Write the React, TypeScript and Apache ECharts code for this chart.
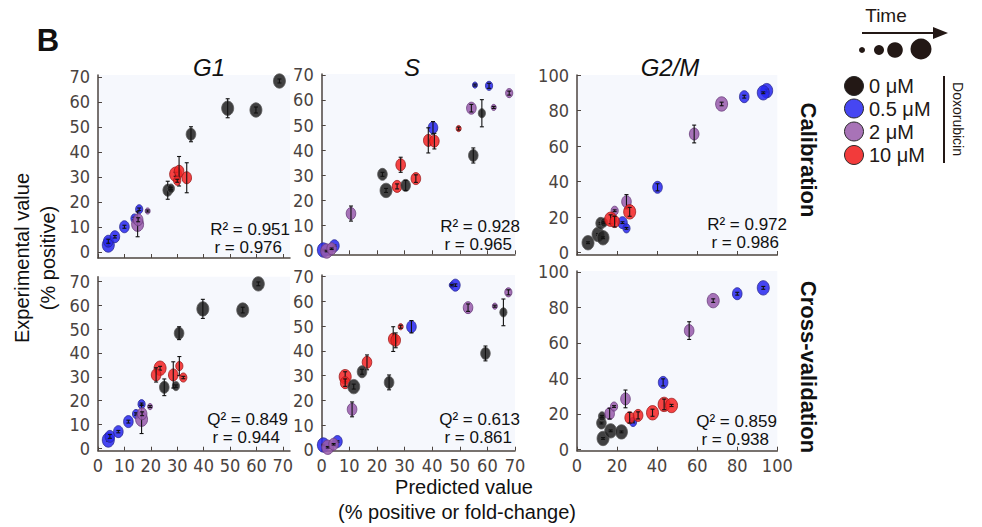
import React, { useEffect, useRef } from 'react';
import * as echarts from 'echarts';

// each point: [predicted, experimental, error, timeSize (1-4), dose index (0-3)]
const g1Calibration = [
  [68.7, 68.3, 0.8, 4, 0], [49.1, 57.4, 3.8, 4, 0], [59.8, 56.7, 1.2, 4, 0], [35.2, 47.0, 3.0, 3, 0],
  [26.4, 24.6, 3.6, 3, 0], [27.6, 25.3, 0.5, 2, 0],
  [29.4, 31.0, 0.8, 4, 3], [30.7, 32.2, 5.9, 3, 3], [33.6, 29.6, 6.0, 3, 3], [30.0, 28.4, 0.6, 2, 3],
  [3.9, 2.7, 0.5, 4, 1], [3.9, 4.2, 0.8, 3, 1], [6.4, 6.0, 0.5, 3, 1], [10.0, 10.0, 0.6, 3, 1],
  [13.8, 13.3, 0.5, 2, 1], [15.6, 17.0, 0.5, 2, 1],
  [15.0, 11.0, 5.0, 4, 2], [15.2, 12.8, 0.8, 3, 2], [18.8, 16.3, 0.4, 1, 2],
];
const sCalibration = [
  [55.5, 65.9, 0.4, 1, 1], [60.6, 65.6, 1.0, 2, 1], [67.9, 62.7, 0.8, 2, 2], [54.2, 56.7, 1.5, 3, 2],
  [62.3, 57.0, 0.4, 1, 2], [58.0, 54.7, 5.4, 2, 0], [40.3, 48.9, 2.5, 3, 1], [49.6, 48.6, 0.6, 1, 3],
  [38.6, 43.9, 5.0, 3, 3], [40.8, 43.6, 3.1, 3, 3], [54.9, 37.9, 3.0, 3, 0], [28.6, 34.2, 3.0, 3, 3],
  [22.0, 30.4, 0.8, 3, 0], [23.3, 24.0, 0.8, 4, 0], [27.3, 25.6, 1.0, 3, 3], [30.4, 26.0, 2.0, 3, 0],
  [34.1, 28.7, 1.5, 3, 3], [10.6, 14.8, 3.0, 3, 2],
  [0.6, 0.3, 0.3, 4, 1], [4.6, 2.0, 0.3, 3, 1], [1.8, -0.1, 0.3, 4, 2], [3.6, 0.8, 0.3, 3, 2],
];
const g2mCalibration = [
  [94.7, 91.2, 0.8, 4, 1], [93.0, 90.0, 0.5, 4, 1], [83.5, 87.8, 0.8, 3, 1], [72.2, 83.7, 1.0, 4, 2],
  [58.5, 66.8, 5.0, 3, 2], [40.2, 36.8, 2.0, 3, 1],
  [5.5, 5.6, 0.5, 4, 0], [10.5, 10.3, 0.5, 4, 0], [13.0, 8.4, 0.5, 4, 0], [11.8, 16.5, 0.5, 3, 0],
  [13.5, 17.0, 0.5, 2, 0],
  [24.7, 28.7, 4.0, 3, 2], [18.8, 23.6, 0.5, 2, 2],
  [22.7, 16.9, 0.5, 3, 1], [24.7, 13.7, 0.5, 2, 1],
  [16.8, 18.8, 2.5, 4, 3], [18.8, 17.5, 3.0, 3, 3], [26.3, 23.0, 2.5, 4, 3],
];
const g1Validation = [
  [60.7, 69.0, 0.8, 4, 0], [39.7, 58.5, 4.0, 4, 0], [54.8, 58.0, 1.2, 4, 0], [30.7, 48.3, 2.7, 3, 0],
  [25.1, 25.6, 3.5, 3, 0], [29.5, 26.1, 0.5, 2, 0],
  [23.5, 33.6, 0.8, 4, 3], [22.0, 30.8, 3.0, 3, 3], [28.5, 30.8, 5.5, 3, 3], [30.8, 34.5, 4.0, 2, 3],
  [32.3, 29.7, 0.5, 2, 3],
  [3.9, 3.5, 0.5, 4, 1], [4.5, 5.0, 0.8, 3, 1], [7.7, 7.0, 0.5, 3, 1], [11.5, 11.2, 0.6, 3, 1],
  [14.4, 14.4, 0.5, 2, 1], [16.5, 18.5, 0.5, 2, 1],
  [16.5, 12.2, 6.0, 4, 2], [16.7, 14.5, 0.8, 3, 2], [19.7, 17.5, 0.4, 1, 2],
];
const sValidation = [
  [48.4, 66.6, 0.5, 3, 1], [47.1, 66.6, 0.3, 1, 1], [53.0, 57.5, 1.5, 3, 2], [62.7, 58.1, 0.4, 1, 2],
  [67.6, 63.7, 1.0, 2, 2], [65.8, 55.6, 5.4, 2, 0], [59.3, 39.0, 3.0, 3, 0], [32.5, 49.8, 2.5, 3, 1],
  [28.6, 49.8, 0.6, 1, 3], [25.9, 44.8, 5.0, 3, 3], [26.8, 44.3, 3.0, 3, 3], [16.4, 35.4, 3.0, 3, 3],
  [14.6, 31.6, 1.0, 3, 0], [8.5, 29.6, 2.0, 4, 3], [8.5, 27.2, 1.5, 3, 3], [11.6, 25.6, 1.0, 4, 0],
  [24.4, 27.3, 3.0, 3, 0], [11.0, 16.4, 3.0, 3, 2],
  [0.6, 2.0, 0.3, 4, 1], [5.7, 3.4, 0.3, 3, 1], [2.2, 1.1, 0.3, 4, 2], [4.3, 2.3, 0.3, 3, 2],
];
const g2mValidation = [
  [93.0, 91.0, 0.8, 4, 1], [80.0, 87.7, 0.8, 3, 1], [68.0, 83.8, 1.0, 4, 2], [56.0, 66.9, 5.0, 3, 2],
  [43.0, 37.7, 2.0, 3, 1],
  [13.0, 6.1, 0.5, 4, 0], [16.8, 10.4, 0.5, 4, 0], [22.2, 9.8, 0.5, 4, 0], [12.2, 14.8, 0.5, 3, 0],
  [12.5, 18.6, 0.5, 2, 0],
  [16.3, 20.1, 3.0, 3, 2], [18.5, 24.1, 0.5, 2, 2], [24.2, 28.4, 5.0, 3, 2],
  [28.0, 15.4, 0.5, 2, 1],
  [26.3, 17.8, 3.0, 3, 3], [30.5, 19.1, 2.0, 3, 3], [37.7, 20.6, 2.0, 4, 3], [43.5, 25.3, 3.0, 4, 3],
  [47.2, 24.7, 0.6, 4, 3],
];

const ticks70 = [0, 10, 20, 30, 40, 50, 60, 70];
const ticks100 = [0, 20, 40, 60, 80, 100];
const columnTitles = ['G1', 'S', 'G2/M'];
const rowTitles = ['Calibration', 'Cross-validation'];
const fitStats = [
  ['R\u00b2 = 0.951', 'r = 0.976'], ['R\u00b2 = 0.928', 'r = 0.965'], ['R\u00b2 = 0.972', 'r = 0.986'],
  ['Q\u00b2 = 0.849', 'r = 0.944'], ['Q\u00b2 = 0.613', 'r = 0.861'], ['Q\u00b2 = 0.859', 'r = 0.938'],
];
const doseLabels = ['0 \u03bcM', '0.5 \u03bcM', '2 \u03bcM', '10 \u03bcM'];

const legendColors = ['#231815', '#4646f2', '#a873b7', '#f23b3b'];
const fillColors = ['rgba(34,34,34,0.86)', 'rgba(40,40,240,0.86)', 'rgba(152,92,172,0.86)', 'rgba(245,36,36,0.86)'];
const strokeColors = ['#5a5a5a', '#2a2a90', '#6a3d7c', '#9a1a1a'];
const RX = [2.5, 3.6, 4.8, 6.0];
const RY = [3.1, 4.6, 6.0, 7.2];

const AXIS = '#4d4540';
const LABEL = '#4a4340';
const NARROW = "'Liberation Sans Narrow', 'Arial Narrow', 'DejaVu Sans Condensed', sans-serif";
const SANS = "'Liberation Sans', Arial, sans-serif";

const layouts = [
  { data: g1Calibration, left: 98, top: 75, width: 192, height: 183, xMax: 72.7, yMin: -2.5, yMax: 70.7, ticks: ticks70, showX: false, sx: 290, sy: 229 },
  { data: sCalibration, left: 321.7, top: 74, width: 193.3, height: 180.3, xMax: 70, yMin: -1.4, yMax: 70.3, ticks: ticks70, showX: false, sx: 520, sy: 226 },
  { data: g2mCalibration, left: 577, top: 75, width: 200.3, height: 180, xMax: 100, yMin: -1.3, yMax: 100, ticks: ticks100, showX: false, sx: 787, sy: 224 },
  { data: g1Validation, left: 98, top: 276.7, width: 192, height: 174, xMax: 72.7, yMin: -1, yMax: 72, ticks: ticks70, showX: true, sx: 288, sy: 419 },
  { data: sValidation, left: 321.7, top: 275, width: 193.3, height: 175.7, xMax: 70, yMin: -0.3, yMax: 70.7, ticks: ticks70, showX: true, sx: 520, sy: 419 },
  { data: g2mValidation, left: 577, top: 271, width: 200.3, height: 179.7, xMax: 100, yMin: -0.8, yMax: 100.5, ticks: ticks100, showX: true, sx: 777, sy: 421 },
];

function renderPoint(params: any, api: any) {
  const x = api.value(0);
  const y = api.value(1);
  const e = api.value(2);
  const s = api.value(3);
  const d = api.value(4);
  const c = api.coord([x, y]);
  const t = api.coord([x, y + e]);
  const b = api.coord([x, y - e]);
  const cap = 2;
  const bar = { stroke: '#111', lineWidth: 1.1 };
  return {
    type: 'group',
    children: [
      {
        type: 'ellipse',
        shape: { cx: c[0], cy: c[1], rx: RX[s - 1], ry: RY[s - 1] },
        style: { fill: fillColors[d], stroke: strokeColors[d], lineWidth: 0.8 },
      },
      { type: 'line', shape: { x1: c[0], y1: t[1], x2: c[0], y2: b[1] }, style: bar },
      { type: 'line', shape: { x1: c[0] - cap, y1: t[1], x2: c[0] + cap, y2: t[1] }, style: bar },
      { type: 'line', shape: { x1: c[0] - cap, y1: b[1], x2: c[0] + cap, y2: b[1] }, style: bar },
    ],
  };
}

function buildOption() {
  const grid: any[] = [];
  const xAxis: any[] = [];
  const yAxis: any[] = [];
  const series: any[] = [];
  layouts.forEach((p, i) => {
    grid.push({ left: p.left, top: p.top, width: p.width, height: p.height, show: true, backgroundColor: '#f6f8fd', borderWidth: 0 });
    xAxis.push({
      type: 'value', gridIndex: i, min: 0, max: p.xMax,
      axisLine: { show: true, onZero: false, lineStyle: { color: AXIS, width: 1.5 } },
      axisTick: { show: true, inside: true, length: 4, customValues: p.ticks, lineStyle: { color: AXIS } },
      axisLabel: { show: p.showX, customValues: p.ticks, color: LABEL, fontSize: 18, fontFamily: NARROW, margin: 6 },
      splitLine: { show: false },
    });
    yAxis.push({
      type: 'value', gridIndex: i, min: p.yMin, max: p.yMax,
      axisLine: { show: true, onZero: false, lineStyle: { color: AXIS, width: 1.5 } },
      axisTick: { show: true, inside: true, length: 4, customValues: p.ticks, lineStyle: { color: AXIS } },
      axisLabel: { show: true, customValues: p.ticks, color: LABEL, fontSize: 18, fontFamily: NARROW, margin: 8 },
      splitLine: { show: false },
    });
    series.push({
      type: 'custom', xAxisIndex: i, yAxisIndex: i, renderItem: renderPoint,
      encode: { x: 0, y: 1 }, data: p.data, clip: false,
    });
  });

  const graphic: any[] = [];
  const txt = (text: string, x: number, y: number, font: string, align = 'center', fill = '#111', rotation = 0) => ({
    type: 'text', x, y, rotation,
    style: { text, x: 0, y: 0, font, fill, textAlign: align, textVerticalAlign: 'middle' },
  });
  graphic.push(txt('B', 48, 40, `bold 31px ${SANS}`));
  const titleX = [209, 412, 670];
  columnTitles.forEach((t, i) => graphic.push(txt(t, titleX[i], 67, `italic 24px ${SANS}`)));
  graphic.push(txt('Experimental value', 22, 258, `20px ${SANS}`, 'center', '#111', Math.PI / 2));
  graphic.push(txt('(% positive)', 48, 258, `20px ${SANS}`, 'center', '#111', Math.PI / 2));
  graphic.push(txt('Predicted value', 464, 487, `20px ${SANS}`));
  graphic.push(txt('(% positive or fold-change)', 457, 512, `20px ${SANS}`));
  graphic.push(txt(rowTitles[0], 808, 160, `bold 22px ${SANS}`, 'center', '#111', -Math.PI / 2));
  graphic.push(txt(rowTitles[1], 808, 367, `bold 22px ${SANS}`, 'center', '#111', -Math.PI / 2));
  layouts.forEach((p, i) => {
    graphic.push(txt(fitStats[i][0], p.sx, p.sy, `17px ${SANS}`, 'right'));
    graphic.push(txt(fitStats[i][1], p.sx - 8, p.sy + 18, `17px ${SANS}`, 'right'));
  });
  // legend: time arrow
  graphic.push(txt('Time', 886, 15, `19px ${SANS}`, 'center', '#231815'));
  graphic.push({ type: 'line', shape: { x1: 862, y1: 33, x2: 938, y2: 33 }, style: { stroke: '#231815', lineWidth: 2 } });
  graphic.push({ type: 'polygon', shape: { points: [[948, 33], [933, 27], [933, 39]] }, style: { fill: '#231815' } });
  const timeDots = [[862, 50, 3], [879, 50, 5], [895, 50, 7.8], [921, 49, 10.5]];
  timeDots.forEach(([x, y, r]) => graphic.push({ type: 'circle', shape: { cx: x, cy: y, r }, style: { fill: '#231815' } }));
  const legendY = [86, 108.5, 131.5, 155];
  doseLabels.forEach((l, i) => {
    graphic.push({ type: 'circle', shape: { cx: 854, cy: legendY[i], r: 9.5 }, style: { fill: legendColors[i], stroke: '#2a2a2a', lineWidth: 1 } });
    graphic.push(txt(l, 869, legendY[i], `20px ${SANS}`, 'left', '#231815'));
  });
  graphic.push({ type: 'line', shape: { x1: 944, y1: 76, x2: 944, y2: 163 }, style: { stroke: '#231815', lineWidth: 2 } });
  graphic.push(txt('Doxorubicin', 958, 119, `14px ${SANS}`, 'center', '#231815', -Math.PI / 2));

  return { animation: false, backgroundColor: '#ffffff', grid, xAxis, yAxis, series, graphic };
}

export default function App() {
  const ref = useRef<HTMLDivElement>(null);
  useEffect(() => {
    if (!ref.current) return;
    const chart = echarts.init(ref.current, undefined, { renderer: 'svg' });
    chart.setOption(buildOption() as any);
    return () => chart.dispose();
  }, []);
  return <div ref={ref} style={{ position: 'fixed', left: 0, top: 0, width: 982, height: 527 }} />;
}
